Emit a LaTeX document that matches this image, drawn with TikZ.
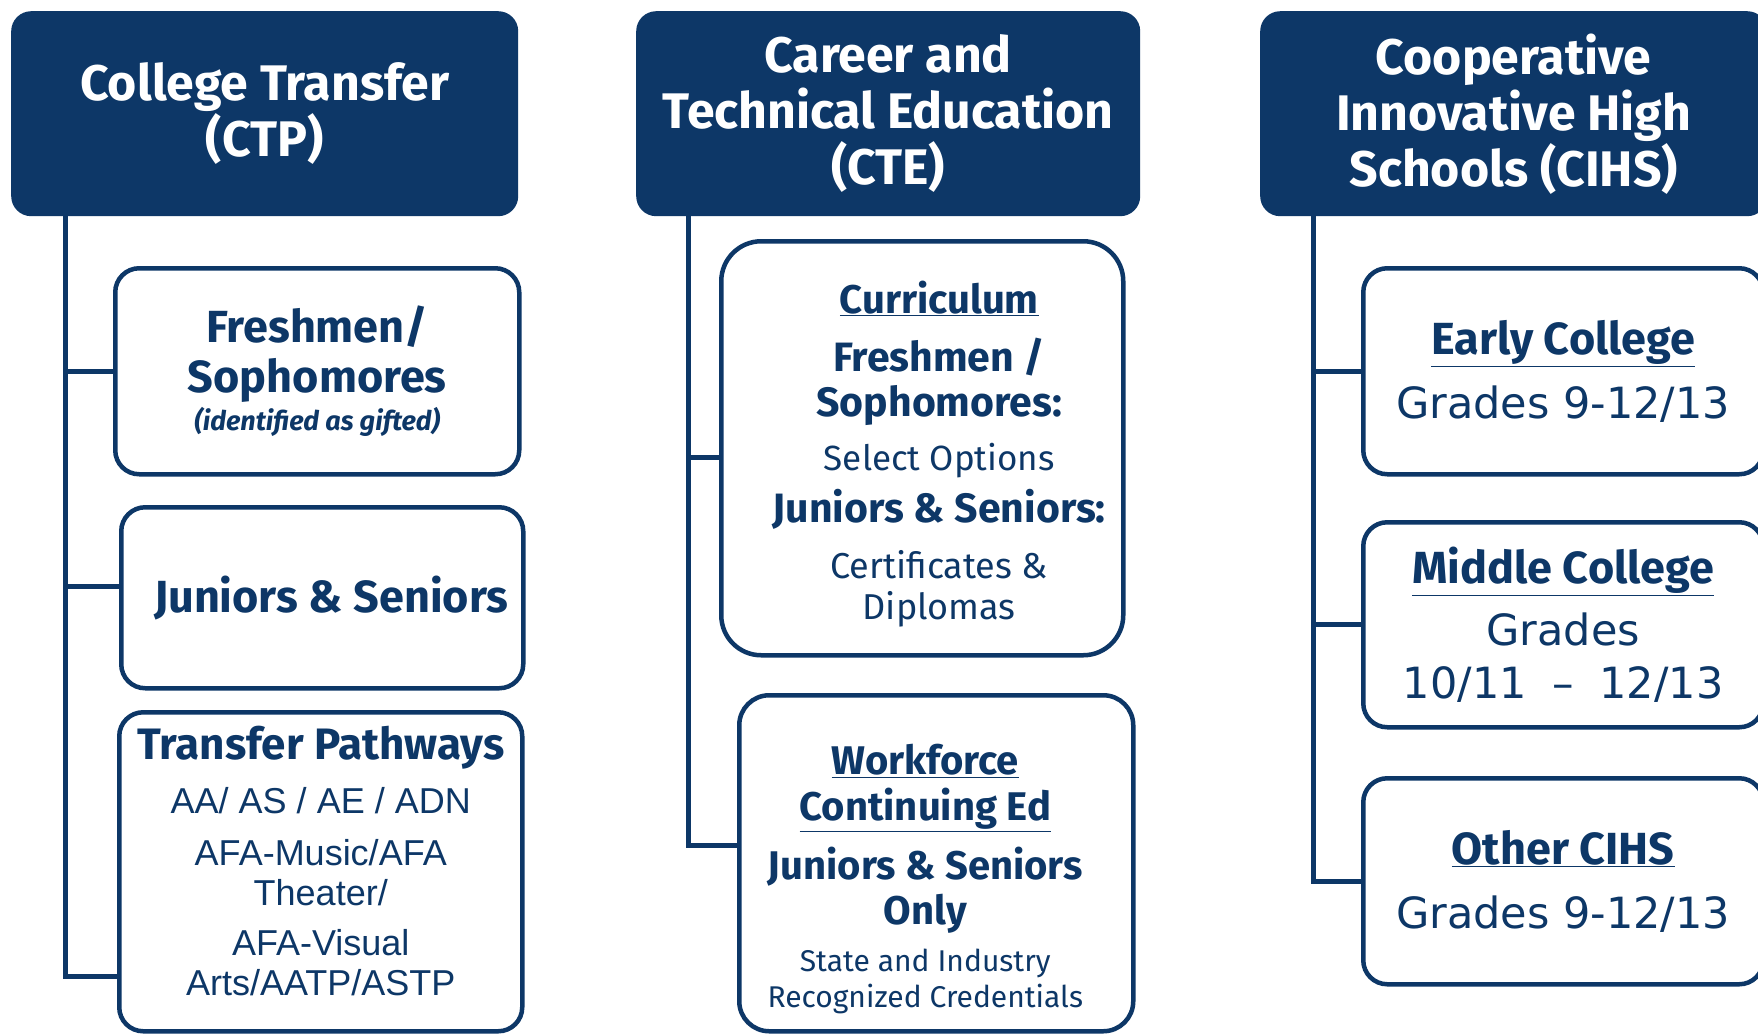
\documentclass[tikz,border=0pt]{standalone}
\usepackage{fontspec}
\setmainfont{Fira Sans}
\newfontfamily\arialfont{Liberation Sans}
\newfontfamily\gradefont{DejaVu Sans}
\usepackage{xcolor}
\usepackage{tikz}
\usetikzlibrary{positioning}
\definecolor{navy}{RGB}{13,55,103}

\begin{document}
\begin{tikzpicture}
  [x=1pt,y=-1pt,
  header/.style={anchor=north west,fill=navy,text=white,rounded corners=20pt,
    minimum width=507pt,minimum height=205pt,inner sep=0pt,align=center,
    font=\bfseries\fontsize{50}{56}\selectfont},
  track/.style={anchor=north west,draw=navy,line width=4.5pt,fill=white,
    text=navy,rounded corners=24pt,inner sep=0pt,align=center},
  link/.style={draw=navy,line width=5pt}
  ]
  \useasboundingbox (0,0) rectangle (1758,1034);
  \clip (0,0) rectangle (1758,1034);
  \fill[white] (0,0) rectangle (1758,1034);

  \node[header] (transfer) at (11,11) {College Transfer\\(CTP)};
  \node[header,minimum width=504pt] (career) at (636,11)
    {Career and\\Technical Education\\(CTE)};
  \node[header] (innovative) at (1260,11)
    {Cooperative\\Innovative High\\Schools (CIHS)};

  % College Transfer
  \node[track,minimum width=404pt,minimum height=206pt,
    font=\bfseries\fontsize{45}{50}\selectfont] (freshmen) at (113,266)
    {Freshmen/\\Sophomores\\[-12pt]{\itshape\fontsize{27}{30}\selectfont (identified as gifted)}};
  \node[track,minimum width=402pt,minimum height=181pt,
    font=\bfseries\fontsize{45}{50}\selectfont] (juniors) at (119,505)
    {\hspace{18pt}Juniors \& Seniors};
  \node[track,minimum width=403pt,minimum height=319pt,
    font=\arialfont\fontsize{36}{40}\selectfont] (pathways) at (117,710)
    {{\rmfamily\bfseries\fontsize{44}{40}\selectfont Transfer Pathways}\\[14pt]
     AA/ AS / AE / ADN\\[12pt]AFA-Music/AFA\\Theater/\\[10pt]AFA-Visual\\
     Arts/AATP/ASTP\rule[-22pt]{0pt}{1pt}};

  % Career and Technical Education
  \node[track,minimum width=402pt,minimum height=414pt,rounded corners=40pt,
    font=\fontsize{36}{42}\selectfont] (curriculum) at (719,239)
    {\rule{0pt}{44pt}\hspace{34pt}{\bfseries\fontsize{40}{42}\selectfont\underline{Curriculum}}\\[16pt]
     \hspace{34pt}{\bfseries\fontsize{41}{42}\selectfont Freshmen /}\\[3pt]
     \hspace{34pt}{\bfseries\fontsize{41}{42}\selectfont Sophomores:}\\[12pt]
     \hspace{34pt}{\fontsize{35}{42}\selectfont Select Options}\\[10pt]
     \hspace{34pt}{\bfseries\fontsize{41}{42}\selectfont Juniors \& Seniors:}\\[14pt]
     \hspace{34pt}Certificates \&\\[-1pt]\hspace{34pt}Diplomas};
  \node[track,minimum width=394pt,minimum height=336pt,rounded corners=30pt,
    font=\fontsize{30}{36}\selectfont] (workforce) at (737,693)
    {\rule{0pt}{62pt}{\bfseries\fontsize{40}{36}\selectfont\underline{Workforce}}\kern22pt\\[10pt]
     {\bfseries\fontsize{40}{36}\selectfont\underline{Continuing Ed}}\kern22pt\\[14pt]
     {\bfseries\fontsize{40}{36}\selectfont Juniors \& Seniors}\kern22pt\\[7pt]
     {\bfseries\fontsize{40}{36}\selectfont Only}\kern22pt\\[11pt]
     State and Industry\kern22pt\\Recognized Credentials\kern22pt};

  % Cooperative Innovative High Schools
  \node[track,minimum width=400pt,minimum height=206pt,
    font=\fontsize{43}{53}\selectfont] (early) at (1361,266)
    {{\bfseries\fontsize{45}{53}\selectfont\underline{Early College}}\\[11pt]
     {\gradefont Grades 9-12/13}};
  \node[track,minimum width=400pt,minimum height=205pt,
    font=\fontsize{43}{53}\selectfont] (middle) at (1361,520)
    {{\bfseries\fontsize{45}{53}\selectfont\underline{Middle College}}\\[9pt]
     {\gradefont Grades}\\{\gradefont 10/11\hspace{12pt} – \hspace{12pt}12/13}};
  \node[track,minimum width=400pt,minimum height=206pt,
    font=\fontsize{43}{53}\selectfont] (other) at (1361,776)
    {{\bfseries\fontsize{45}{53}\selectfont\underline{Other CIHS}}\\[11pt]
     {\gradefont Grades 9-12/13}};

  \coordinate (transfer stem) at ([xshift=54pt]transfer.south west);
  \coordinate (career stem) at ([xshift=52pt]career.south west);
  \coordinate (innovative stem) at ([xshift=53pt]innovative.south west);

  \draw[link] (transfer stem) |- (freshmen.west);
  \draw[link] (transfer stem) |- ([yshift=11pt]juniors.west);
  \draw[link] (transfer stem) |- ([yshift=-105pt]pathways.west);
  \draw[link] (career stem) |- ([yshift=-9pt]curriculum.west);
  \draw[link] (career stem) |- ([yshift=18pt]workforce.west);
  \draw[link] (innovative stem) |- (early.west);
  \draw[link] (innovative stem) |- (middle.west);
  \draw[link] (innovative stem) |- (other.west);
\end{tikzpicture}
\end{document}
